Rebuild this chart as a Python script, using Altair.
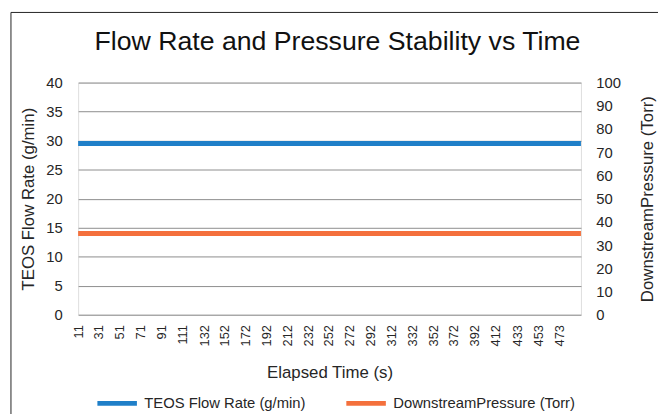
import altair as alt
import pandas as pd

# ---- data ----
time_s = [11, 31, 51, 71, 91, 111, 132, 152, 172, 192, 212, 232, 252,
          272, 292, 312, 332, 352, 372, 392, 412, 433, 453, 473, 494]
tick_labels = [11, 31, 51, 71, 91, 111, 132, 152, 172, 192, 212, 232, 252,
               272, 292, 312, 332, 352, 372, 392, 412, 433, 453, 473]
teos_flow = [29.5, 29.5, 29.5, 29.5, 29.5, 29.5, 29.5, 29.5, 29.5, 29.5,
             29.5, 29.5, 29.5, 29.5, 29.5, 29.5, 29.5, 29.5, 29.5, 29.5,
             29.5, 29.5, 29.5, 29.5, 29.5]
downstream_p = [35.0, 35.0, 35.0, 35.0, 35.0, 35.0, 35.0, 35.0, 35.0, 35.0,
                35.0, 35.0, 35.0, 35.0, 35.0, 35.0, 35.0, 35.0, 35.0, 35.0,
                35.0, 35.0, 35.0, 35.0, 35.0]
series_names = ["TEOS Flow Rate (g/min)", "DownstreamPressure (Torr)"]
series_colors = ["#1f7fc8", "#f4703c"]
left_ticks = [0, 5, 10, 15, 20, 25, 30, 35, 40]
right_ticks = [0, 10, 20, 30, 40, 50, 60, 70, 80, 90, 100]

FONT = "Liberation Sans"
TXT = "#262626"

df_flow = pd.DataFrame({"t": time_s, "v": teos_flow, "s": series_names[0]})
df_p = pd.DataFrame({"t": time_s, "v": downstream_p, "s": series_names[1]})

x_enc = alt.X(
    "t:Q",
    scale=alt.Scale(domain=[time_s[0], time_s[-1]], nice=False, zero=False),
    axis=alt.Axis(
        values=tick_labels, labelAngle=-90, labelAlign="right", labelBaseline="middle",
        labelFontSize=13, labelPadding=10, labelColor=TXT, labelFont=FONT,
        ticks=False, domain=False, grid=False, labelOverlap=False,
        title="Elapsed Time (s)", titleFontSize=17, titleFont=FONT,
        titleFontWeight="normal", titleColor=TXT, titlePadding=19,
    ),
)

color_enc = alt.Color(
    "s:N",
    scale=alt.Scale(domain=series_names, range=series_colors),
    legend=alt.Legend(
        title=None, orient="none", legendX=17, legendY=302, direction="horizontal",
        symbolType="stroke", symbolSize=1600, symbolStrokeWidth=5,
        labelFontSize=15, labelFont=FONT, labelColor=TXT, labelOffset=5,
        labelLimit=400, columnPadding=30, padding=0,
    ),
)

flow_line = alt.Chart(df_flow).mark_line(strokeWidth=5).encode(
    x=x_enc,
    y=alt.Y(
        "v:Q",
        scale=alt.Scale(domain=[0, 40], nice=False),
        axis=alt.Axis(
            orient="left", values=left_ticks, grid=True, gridColor="#8c8c8c",
            gridWidth=1, ticks=False, domain=False, labelFontSize=15,
            labelFont=FONT, labelColor=TXT, labelPadding=16,
            title="TEOS Flow Rate (g/min)", titleFontSize=17, titleFont=FONT,
            titleFontWeight="normal", titleColor=TXT, titlePadding=9,
        ),
    ),
    color=color_enc,
)

p_line = alt.Chart(df_p).mark_line(strokeWidth=5).encode(
    x=x_enc,
    y=alt.Y(
        "v:Q",
        scale=alt.Scale(domain=[0, 100], nice=False),
        axis=alt.Axis(
            orient="right", values=right_ticks, grid=False, ticks=False,
            domain=False, labelFontSize=15, labelFont=FONT, labelColor=TXT,
            labelPadding=15, title="DownstreamPressure (Torr)", titleAngle=-90,
            titleFontSize=17, titleFont=FONT, titleFontWeight="normal",
            titleColor=TXT, titlePadding=36,
        ),
    ),
    color=color_enc,
)

frame_left = alt.Chart(df_flow.head(1)).mark_rule(color="#222222", strokeWidth=1).encode(
    x=alt.value(-68), y=alt.value(-71), y2=alt.value(400)
)
frame_top = alt.Chart(df_flow.head(1)).mark_rule(color="#222222", strokeWidth=1).encode(
    x=alt.value(-68), x2=alt.value(700), y=alt.value(-71)
)

chart = alt.layer(flow_line, p_line, frame_left, frame_top).resolve_scale(
    y="independent"
).properties(
    width=509,
    height=235,
    padding={"left": 71, "top": 73, "right": 78, "bottom": 98},
    autosize=alt.AutoSizeParams(type="none"),
    title=alt.TitleParams(
        "Flow Rate and Pressure Stability vs Time", fontSize=27, font=FONT,
        fontWeight="normal", color="#111111", anchor="middle", offset=0,
        baseline="alphabetic", dy=66, dx=8,
    ),
).configure_view(stroke=None).configure(background="white")

chart.save("out.html", embed_options={"renderer": "svg", "actions": False})
